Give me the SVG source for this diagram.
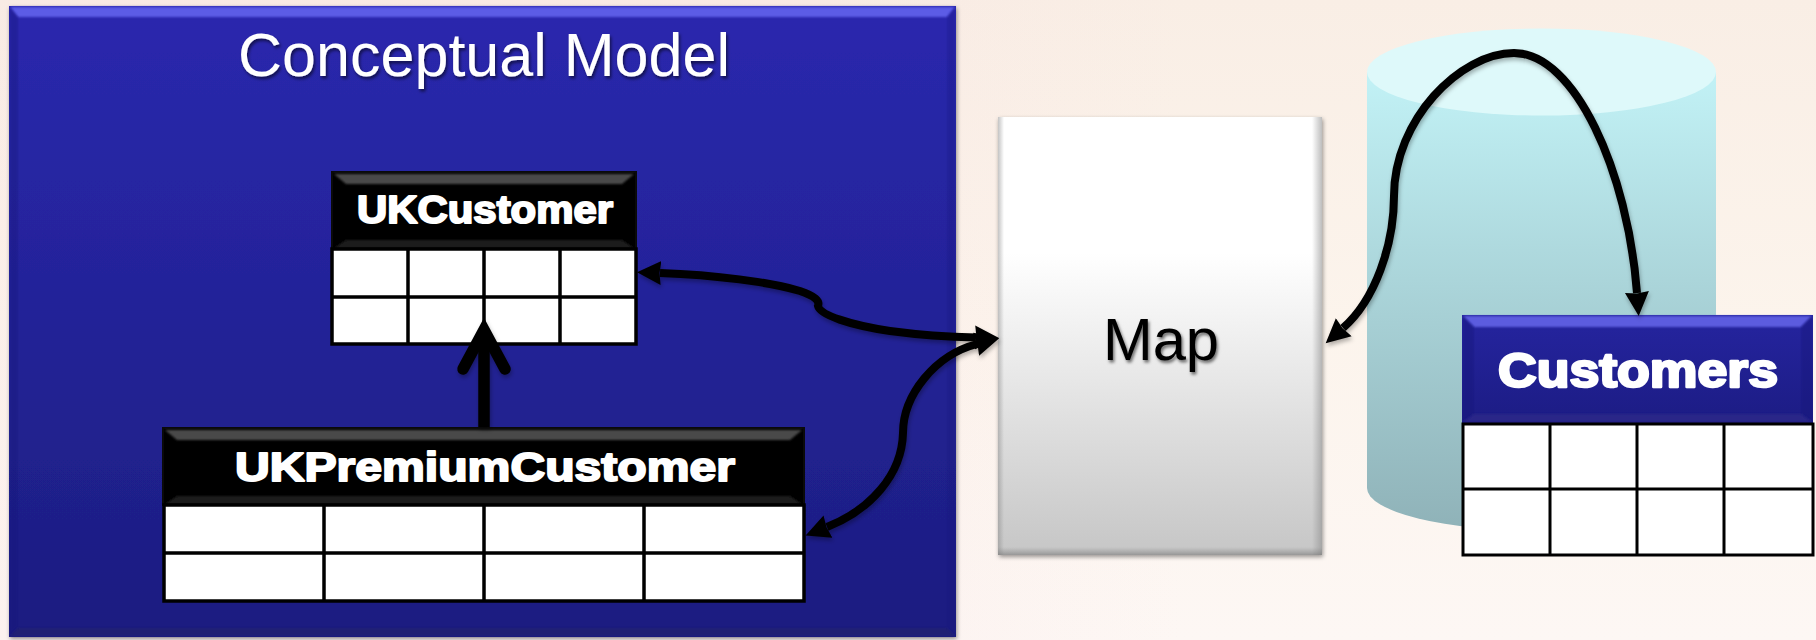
<svg xmlns="http://www.w3.org/2000/svg" width="1816" height="640" viewBox="0 0 1816 640">
<style>
text{font-family:"Liberation Sans",Arial,sans-serif}
.thin{font-size:61px;fill:#fff}
.hd{font-weight:bold;fill:#fff;stroke:#fff;stroke-width:2px;stroke-linejoin:round}
.cell{fill:#fff;stroke:#000;stroke-width:3.5}
.grid{stroke:#000;stroke-width:3.5;fill:none}
.conn{fill:none;stroke:#000;stroke-width:8}
.bv{filter:url(#soft)}
</style>
<defs>
<linearGradient id="bg" x1="0" y1="0" x2="0" y2="1"><stop offset="0" stop-color="#f9eee5"/><stop offset="0.5" stop-color="#fcf4ec"/><stop offset="1" stop-color="#fdf7f4"/></linearGradient>
<linearGradient id="pink" x1="0" y1="0" x2="1" y2="0"><stop offset="0.45" stop-color="#f8dfe0" stop-opacity="0.2"/><stop offset="0.65" stop-color="#f8dfe0" stop-opacity="0"/></linearGradient>
<linearGradient id="panel" x1="0" y1="0" x2="0" y2="1"><stop offset="0" stop-color="#2a28ae"/><stop offset="1" stop-color="#1c1d80"/></linearGradient>
<linearGradient id="map" x1="0" y1="0" x2="0" y2="1"><stop offset="0" stop-color="#fff"/><stop offset="0.31" stop-color="#fff"/><stop offset="1" stop-color="#c6c6c6"/></linearGradient>
<linearGradient id="mapR" x1="0" y1="0" x2="1" y2="0"><stop offset="0" stop-color="#888" stop-opacity="0"/><stop offset="1" stop-color="#888" stop-opacity="0.55"/></linearGradient>
<linearGradient id="mapL" x1="1" y1="0" x2="0" y2="0"><stop offset="0" stop-color="#888" stop-opacity="0"/><stop offset="1" stop-color="#888" stop-opacity="0.5"/></linearGradient>
<linearGradient id="mapB" x1="0" y1="0" x2="0" y2="1"><stop offset="0" stop-color="#888" stop-opacity="0"/><stop offset="1" stop-color="#777" stop-opacity="0.6"/></linearGradient>
<linearGradient id="cyl" x1="0" y1="0" x2="0" y2="1"><stop offset="0" stop-color="#c2f2f6"/><stop offset="1" stop-color="#8fb2b8"/></linearGradient>
<linearGradient id="blueH" x1="0" y1="0" x2="0" y2="1"><stop offset="0" stop-color="#25249f"/><stop offset="1" stop-color="#1c1c84"/></linearGradient>
<filter id="soft" x="-5%" y="-30%" width="110%" height="160%"><feGaussianBlur stdDeviation="0.9"/></filter>
<filter id="sh" x="-5%" y="-5%" width="110%" height="115%"><feDropShadow dx="1" dy="2" stdDeviation="2" flood-color="#000" flood-opacity="0.4"/></filter>
<filter id="cs" x="-5%" y="-5%" width="110%" height="115%"><feDropShadow dx="1" dy="3" stdDeviation="2" flood-color="#000" flood-opacity="0.3"/></filter>
<filter id="ts" x="-5%" y="-10%" width="110%" height="130%"><feDropShadow dx="1.5" dy="2.5" stdDeviation="1.5" flood-color="#000" flood-opacity="0.55"/></filter>
<marker id="head" markerUnits="userSpaceOnUse" markerWidth="30" markerHeight="30" refX="1" refY="15" orient="auto-start-reverse" viewBox="0 0 30 30">
<path d="M0 3 L24 15 L0 27 L1.5 15 Z" fill="#000"/>
</marker>
</defs>
<rect id="background" width="1816" height="640" fill="url(#bg)"/>
<rect width="1816" height="640" fill="url(#pink)"/>

<g id="conceptual-model">
<rect x="9" y="6" width="947" height="631" fill="url(#panel)" filter="url(#sh)"/>
<polygon class="bv" points="10,7 955,7 947,17 18,17" fill="#5c5ce6"/>
<polygon class="bv" points="10,7 18,17 18,628 10,636" fill="#16167a" opacity="0.35"/>
<polygon class="bv" points="955,7 947,17 947,628 955,636" fill="#16167a" opacity="0.25"/>
<polygon class="bv" points="10,636 955,636 947,628 18,628" fill="#24246e" opacity="0.7"/>
<text class="thin" x="238" y="76" textLength="492" lengthAdjust="spacingAndGlyphs" filter="url(#ts)">Conceptual Model</text>
</g>

<g id="cylinder">
<path d="M1367 72 V488 A174.5 43 0 0 0 1716 488 V72 Z" fill="url(#cyl)"/>
<ellipse cx="1541.5" cy="72" rx="174.5" ry="43.5" fill="#def9fa"/>
</g>

<g id="map-node">
<rect x="998" y="117" width="324" height="438" fill="url(#map)" filter="url(#sh)"/>
<rect x="1312" y="117" width="10" height="438" fill="url(#mapR)"/>
<rect x="998" y="117" width="6" height="438" fill="url(#mapL)"/>
<rect x="998" y="547" width="324" height="8" fill="url(#mapB)"/>
<text x="1103" y="360" font-size="60" fill="#000" filter="url(#ts)" textLength="116" lengthAdjust="spacingAndGlyphs">Map</text>
</g>

<g id="uk-customer">
<rect x="332" y="172" width="304" height="77" fill="#000" stroke="#0a0a0a" stroke-width="2"/>
<polygon class="bv" points="334,174 634,174 622,184 346,184" fill="#4a4a4a"/>
<polygon class="bv" points="334,248 634,248 622,240 346,240" fill="#1a1a1a"/>
<text class="hd" x="357" y="223" font-size="38" textLength="256" lengthAdjust="spacingAndGlyphs">UKCustomer</text>
<rect class="cell" x="332" y="249" width="304" height="95"/>
<path class="grid" d="M332 297H636M408 249V344M484 249V344M560 249V344"/>
</g>

<g id="uk-premium-customer">
<rect x="163" y="428" width="641" height="77" fill="#000" stroke="#0a0a0a" stroke-width="2"/>
<polygon class="bv" points="165,430 802,430 790,440 177,440" fill="#4a4a4a"/>
<polygon class="bv" points="165,504 802,504 790,496 177,496" fill="#1a1a1a"/>
<text class="hd" x="235" y="481" font-size="41" textLength="500" lengthAdjust="spacingAndGlyphs">UKPremiumCustomer</text>
<rect class="cell" x="164" y="505" width="640" height="96"/>
<path class="grid" d="M164 553H804M324 505V601M484 505V601M644 505V601"/>
</g>

<g id="customers">
<rect x="1462" y="315" width="351" height="108" fill="url(#blueH)"/>
<polygon class="bv" points="1463,316 1812,316 1801,327 1474,327" fill="#5c5cdf"/>
<polygon class="bv" points="1463,316 1474,327 1474,414 1463,422" fill="#16167a" opacity="0.4"/>
<polygon class="bv" points="1812,316 1801,327 1801,414 1812,422" fill="#16167a" opacity="0.4"/>
<polygon class="bv" points="1463,422 1812,422 1801,414 1474,414" fill="#2a2888"/>
<text class="hd" style="stroke-width:2.6px" x="1498" y="387" font-size="48" textLength="280" lengthAdjust="spacingAndGlyphs">Customers</text>
<rect x="1463" y="424" width="350" height="131" fill="#fff" stroke="#000" stroke-width="3"/>
<path d="M1463 489H1813M1550 424V555M1637 424V555M1724 424V555" fill="none" stroke="#000" stroke-width="3"/>
</g>

<g id="connectors" filter="url(#cs)">
<path d="M484 427V330" fill="none" stroke="#000" stroke-width="11.5"/>
<path d="M463 369L484 330L505 369" fill="none" stroke="#000" stroke-width="11.5" stroke-linecap="round"/>
<path class="conn" marker-start="url(#head)" marker-end="url(#head)" d="M660 273C715 275 770 282 800 291C815 296 820 301 818 306C820 315 850 325 890 331C920 335 950 337 976 337.5"/>
<path class="conn" marker-start="url(#head)" marker-end="url(#head)" d="M827 527C870 510 902 475 903 433C903 395 935 355 977 344"/>
<path class="conn" marker-start="url(#head)" marker-end="url(#head)" d="M1343 328C1375 300 1394 245 1394 196C1394 120 1460 53 1514 53C1575 53 1628 172 1637 293"/>
</g>
</svg>
